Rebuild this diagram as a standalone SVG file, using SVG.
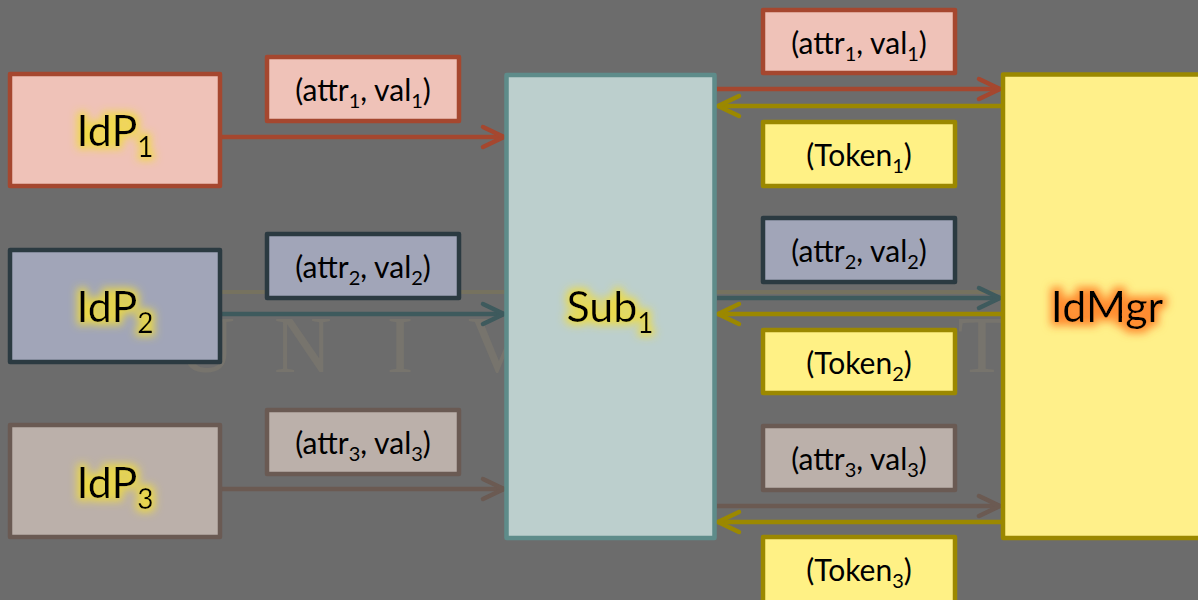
<svg xmlns="http://www.w3.org/2000/svg" width="1198" height="600" viewBox="0 0 1198 600">
  <defs>
    <style>
      .lbl { font-family: "Lato", "Open Sans", "Liberation Sans", sans-serif; fill: #000; text-anchor: middle; }
      .big { font-size: 43px; }
      .sm { font-size: 30px; }
      .bs { font-size: 28px; }
      .ss { font-size: 20px; }
      .box { stroke-width: 4.5; stroke-linejoin: round; }
      .red { fill: #efc2b8; stroke: #a5472f; }
      .slate { fill: #a1a5b8; stroke: #2b3a41; }
      .taupe { fill: #bbb0aa; stroke: #6a5a53; }
      .tok { fill: #fff185; stroke: #9b8800; }
      .wire { fill: none; stroke-width: 4.5; }
      .wm { font-family: "Liberation Serif", "DejaVu Serif", serif; font-size: 80px; fill: #77746d; text-anchor: middle; }
    </style>
    <!-- open chevron arrowheads, one per wire colour -->
    <marker id="hRed" markerUnits="userSpaceOnUse" markerWidth="26" markerHeight="24" refX="0" refY="0" orient="auto" overflow="visible">
      <path d="M-21,-10 L0,0 L-21,10" fill="none" stroke="#a5472f" stroke-width="4.5" stroke-linecap="round" stroke-linejoin="round"/>
    </marker>
    <marker id="hSlate" markerUnits="userSpaceOnUse" markerWidth="26" markerHeight="24" refX="0" refY="0" orient="auto" overflow="visible">
      <path d="M-21,-10 L0,0 L-21,10" fill="none" stroke="#3e5a5d" stroke-width="4.5" stroke-linecap="round" stroke-linejoin="round"/>
    </marker>
    <marker id="hTaupe" markerUnits="userSpaceOnUse" markerWidth="26" markerHeight="24" refX="0" refY="0" orient="auto" overflow="visible">
      <path d="M-21,-10 L0,0 L-21,10" fill="none" stroke="#6b5a52" stroke-width="4.5" stroke-linecap="round" stroke-linejoin="round"/>
    </marker>
    <marker id="hOlive" markerUnits="userSpaceOnUse" markerWidth="26" markerHeight="24" refX="0" refY="0" orient="auto" overflow="visible">
      <path d="M-21,-10 L0,0 L-21,10" fill="none" stroke="#9b8800" stroke-width="4.5" stroke-linecap="round" stroke-linejoin="round"/>
    </marker>
    <!-- soft halo behind the main labels -->
    <filter id="glowY" x="-30%" y="-60%" width="160%" height="220%">
      <feMorphology in="SourceAlpha" operator="dilate" radius="3" result="d"/>
      <feGaussianBlur in="d" stdDeviation="4.5" result="b"/>
      <feFlood flood-color="#f0dc3c" flood-opacity="0.9"/>
      <feComposite in2="b" operator="in" result="g"/>
      <feMerge><feMergeNode in="g"/><feMergeNode in="SourceGraphic"/></feMerge>
    </filter>
    <filter id="glowO" x="-30%" y="-60%" width="160%" height="220%">
      <feMorphology in="SourceAlpha" operator="dilate" radius="3.5" result="d"/>
      <feGaussianBlur in="d" stdDeviation="4.5" result="b"/>
      <feFlood flood-color="#ff8c30" flood-opacity="1"/>
      <feComposite in2="b" operator="in" result="g"/>
      <feMerge><feMergeNode in="g"/><feMergeNode in="SourceGraphic"/></feMerge>
    </filter>
  </defs>

  <!-- backdrop with faint letters of the wordmark -->
  <rect x="0" y="0" width="1198" height="600" fill="#6c6c6c"/>
  <g id="backdrop">
    <rect x="185" y="290" width="820" height="4" fill="#76725f"/>
    <text class="wm" x="206" y="372">U</text>
    <text class="wm" x="303" y="372">N</text>
    <text class="wm" x="400" y="372">I</text>
    <text class="wm" x="497" y="372">V</text>
    <text class="wm" x="982" y="372">T</text>
  </g>

  <!-- connectors -->
  <g id="connectors" class="wire">
    <line x1="222" y1="137" x2="504" y2="137" stroke="#a5472f" marker-end="url(#hRed)"/>
    <line x1="222" y1="314" x2="504" y2="314" stroke="#3e5a5d" marker-end="url(#hSlate)"/>
    <line x1="222" y1="489" x2="504" y2="489" stroke="#6b5a52" marker-end="url(#hTaupe)"/>

    <line x1="717" y1="89" x2="1000" y2="89" stroke="#a5472f" marker-end="url(#hRed)"/>
    <line x1="1001" y1="106" x2="718" y2="106" stroke="#9b8800" marker-end="url(#hOlive)"/>
    <line x1="717" y1="298" x2="1000" y2="298" stroke="#3e5a5d" marker-end="url(#hSlate)"/>
    <line x1="1001" y1="314" x2="718" y2="314" stroke="#9b8800" marker-end="url(#hOlive)"/>
    <line x1="717" y1="506" x2="1000" y2="506" stroke="#6b5a52" marker-end="url(#hTaupe)"/>
    <line x1="1001" y1="522" x2="718" y2="522" stroke="#9b8800" marker-end="url(#hOlive)"/>
  </g>

  <!-- identity providers -->
  <g id="idp1">
    <rect class="box red" x="10" y="74" width="210" height="112"/>
    <text class="lbl big" x="115" y="146" filter="url(#glowY)">IdP<tspan class="bs" dy="11">1</tspan></text>
  </g>
  <g id="idp2">
    <rect class="box slate" x="10" y="250" width="210" height="112"/>
    <text class="lbl big" x="115" y="322" filter="url(#glowY)">IdP<tspan class="bs" dy="11">2</tspan></text>
  </g>
  <g id="idp3">
    <rect class="box taupe" x="10" y="425" width="210" height="112"/>
    <text class="lbl big" x="115" y="498" filter="url(#glowY)">IdP<tspan class="bs" dy="11">3</tspan></text>
  </g>

  <!-- attribute messages into the subscriber -->
  <g id="msg-a1-in">
    <rect class="box red" x="267" y="57" width="192" height="64"/>
    <text class="lbl sm" x="363" y="101">(attr<tspan class="ss" dy="7">1</tspan><tspan dy="-7">, val</tspan><tspan class="ss" dy="7">1</tspan><tspan dy="-7">)</tspan></text>
  </g>
  <g id="msg-a2-in">
    <rect class="box slate" x="267" y="234" width="192" height="64"/>
    <text class="lbl sm" x="363" y="278">(attr<tspan class="ss" dy="7">2</tspan><tspan dy="-7">, val</tspan><tspan class="ss" dy="7">2</tspan><tspan dy="-7">)</tspan></text>
  </g>
  <g id="msg-a3-in">
    <rect class="box taupe" x="267" y="410" width="192" height="64"/>
    <text class="lbl sm" x="363" y="454">(attr<tspan class="ss" dy="7">3</tspan><tspan dy="-7">, val</tspan><tspan class="ss" dy="7">3</tspan><tspan dy="-7">)</tspan></text>
  </g>

  <!-- subscriber -->
  <g id="sub1">
    <rect class="box" x="506.5" y="75" width="208" height="463" fill="#bccfcd" stroke="#5e8c8a"/>
    <text class="lbl big" x="610" y="322" filter="url(#glowY)">Sub<tspan class="bs" dy="11">1</tspan></text>
  </g>

  <!-- messages between subscriber and identity manager -->
  <g id="msg-a1-out">
    <rect class="box red" x="763" y="10" width="192" height="63"/>
    <text class="lbl sm" x="859" y="54">(attr<tspan class="ss" dy="7">1</tspan><tspan dy="-7">, val</tspan><tspan class="ss" dy="7">1</tspan><tspan dy="-7">)</tspan></text>
  </g>
  <g id="msg-t1">
    <rect class="box tok" x="763" y="122" width="192" height="64"/>
    <text class="lbl sm" x="859" y="166">(Token<tspan class="ss" dy="7">1</tspan><tspan dy="-7">)</tspan></text>
  </g>
  <g id="msg-a2-out">
    <rect class="box slate" x="763" y="218" width="192" height="64"/>
    <text class="lbl sm" x="859" y="262">(attr<tspan class="ss" dy="7">2</tspan><tspan dy="-7">, val</tspan><tspan class="ss" dy="7">2</tspan><tspan dy="-7">)</tspan></text>
  </g>
  <g id="msg-t2">
    <rect class="box tok" x="763" y="330" width="192" height="63"/>
    <text class="lbl sm" x="859" y="374">(Token<tspan class="ss" dy="7">2</tspan><tspan dy="-7">)</tspan></text>
  </g>
  <g id="msg-a3-out">
    <rect class="box taupe" x="763" y="426" width="192" height="64"/>
    <text class="lbl sm" x="859" y="470">(attr<tspan class="ss" dy="7">3</tspan><tspan dy="-7">, val</tspan><tspan class="ss" dy="7">3</tspan><tspan dy="-7">)</tspan></text>
  </g>
  <g id="msg-t3">
    <rect class="box tok" x="763" y="537" width="192" height="80"/>
    <text class="lbl sm" x="859" y="581">(Token<tspan class="ss" dy="7">3</tspan><tspan dy="-7">)</tspan></text>
  </g>

  <!-- identity manager -->
  <g id="idmgr">
    <rect class="box" x="1003" y="74.5" width="230" height="463.5" fill="#fff08a" stroke="#9b8800" stroke-width="5"/>
    <text class="lbl big" x="1107" y="322" filter="url(#glowO)">IdMgr</text>
  </g>
</svg>
